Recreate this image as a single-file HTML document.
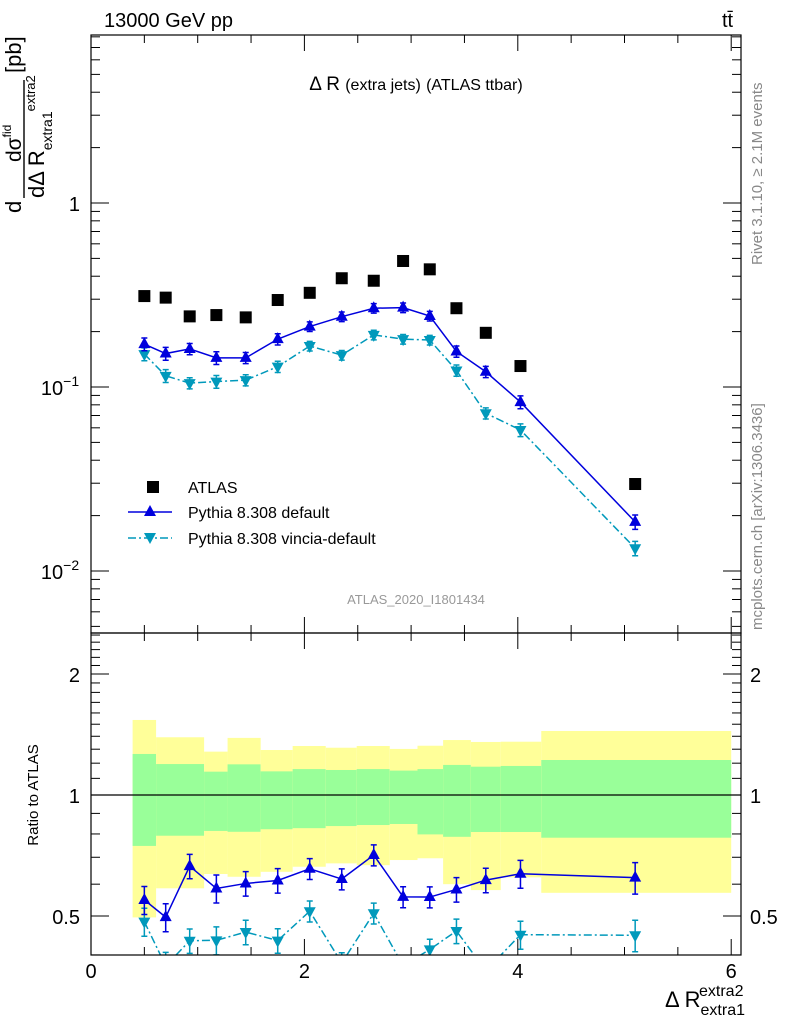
<!DOCTYPE html>
<html><head><meta charset="utf-8"><style>
html,body{margin:0;padding:0;background:#fff;}
svg text{font-family:"Liberation Sans",sans-serif;}
</style></head><body>
<svg id="c" width="786" height="1024" xmlns="http://www.w3.org/2000/svg">
<defs>
<clipPath id="cm"><rect x="91" y="35" width="650" height="598"/></clipPath>
<clipPath id="cr"><rect x="91" y="633" width="650" height="322"/></clipPath>
</defs>
<g id="bands" clip-path="url(#cr)"></g>
<line x1="91" y1="795" x2="741" y2="795" stroke="#000" stroke-width="1.2"/>
<g id="marks"></g>
<g id="axes"></g>
<rect x="91" y="35" width="650" height="598" fill="none" stroke="#000" stroke-width="1.2"/>
<rect x="91" y="633" width="650" height="322" fill="none" stroke="#000" stroke-width="1.2"/>
<text x="104" y="27" font-size="20">13000 GeV pp</text>
<text x="722" y="27" font-size="20">tt̄</text>
<text x="416" y="90" font-size="19" text-anchor="middle">Δ R <tspan font-size="16">(extra jets)</tspan> <tspan font-size="16">(ATLAS ttbar)</tspan></text>
<text x="416" y="604" font-size="13" fill="#999" text-anchor="middle">ATLAS_2020_I1801434</text>
<text transform="translate(762,265) rotate(-90)" font-size="15" fill="#888">Rivet 3.1.10, ≥ 2.1M events</text>
<text transform="translate(762,630) rotate(-90)" font-size="15" fill="#888">mcplots.cern.ch [arXiv:1306.3436]</text>
<g transform="rotate(-90)">
<text x="-213" y="21" font-size="22">d</text>
<line x1="-198" y1="24" x2="-80" y2="24" stroke="#000" stroke-width="1.4"/>
<text x="-162" y="21" font-size="21">dσ<tspan font-size="12" dy="-10">fid</tspan></text>
<text x="-198" y="44" font-size="22">dΔ R<tspan font-size="14" dy="8">extra1</tspan><tspan font-size="13" dy="-17">extra2</tspan></text>
<text x="-73" y="21" font-size="22">[pb]</text>
</g>
<text transform="translate(38,795) rotate(-90)" font-size="15" text-anchor="middle">Ratio to ATLAS</text>
<text x="745" y="1007" font-size="22" text-anchor="end">Δ R<tspan font-size="16" dy="8">extra1</tspan><tspan font-size="16" dx="-46" dy="-19">extra2</tspan></text>
<g>
<rect x="147" y="481" width="12" height="12" fill="#000"/>
<text x="188" y="493" font-size="16">ATLAS</text>
<line x1="128" y1="512" x2="172" y2="512" stroke="#0000dd" stroke-width="1.5"/>
<path d="M150 505 L156 516 L144 516 Z" fill="#0000dd"/>
<text x="188" y="518" font-size="16">Pythia 8.308 default</text>
<line x1="128" y1="538" x2="172" y2="538" stroke="#0099bb" stroke-width="1.5" stroke-dasharray="8,3,2,3"/>
<path d="M144 533 L156 533 L150 544 Z" fill="#0099bb"/>
<text x="188" y="544" font-size="16">Pythia 8.308 vincia-default</text>
</g>
</svg>
<script>
const xCenters=[0.5,0.7,0.925,1.175,1.45,1.75,2.05,2.35,2.65,2.925,3.175,3.425,3.7,4.025,5.1];
const atlas=[0.312,0.306,0.242,0.246,0.239,0.297,0.325,0.390,0.378,0.484,0.436,0.268,0.197,0.130,0.0297];
const pyDefault=[0.171,0.152,0.161,0.144,0.144,0.182,0.213,0.241,0.268,0.270,0.243,0.156,0.121,0.0828,0.0185];
const pyVincia=[0.151,0.115,0.105,0.107,0.109,0.129,0.167,0.149,0.192,0.182,0.180,0.123,0.072,0.0584,0.0133];
const mcRelErr=[0.08,0.08,0.07,0.08,0.07,0.07,0.06,0.06,0.06,0.06,0.06,0.07,0.07,0.08,0.09];
const bandEdges=[0.39,0.61,1.06,1.28,1.59,1.89,2.2,2.49,2.8,3.06,3.3,3.56,3.84,4.22,6.0];
const yellowHi=[1.537,1.392,1.282,1.387,1.294,1.324,1.311,1.324,1.302,1.326,1.370,1.355,1.357,1.443];
const greenHi=[1.265,1.194,1.143,1.192,1.145,1.160,1.154,1.160,1.150,1.160,1.188,1.176,1.181,1.222];
const greenLo=[0.747,0.792,0.814,0.810,0.822,0.827,0.837,0.842,0.847,0.798,0.787,0.809,0.809,0.783];
const yellowLo=[0.496,0.586,0.636,0.626,0.644,0.663,0.676,0.669,0.689,0.696,0.600,0.580,0.624,0.571];
const xTicks=[0,2,4,6];
const NS="http://www.w3.org/2000/svg";
const X=v=>91+v*106.7;
const Y=v=>203-184*Math.log10(v);
const R=r=>795-121*Math.log2(r);
function mk(t,a,p){const e=document.createElementNS(NS,t);for(const k in a)e.setAttribute(k,a[k]);p.appendChild(e);return e;}
const bands=document.getElementById('bands'),marks=document.getElementById('marks'),axes=document.getElementById('axes');
for(let i=0;i<yellowHi.length;i++){
 const x0=X(bandEdges[i]),w=X(bandEdges[i+1])-x0;
 const y1=mk('rect',{x:x0,y:R(yellowHi[i]),width:w,height:R(yellowLo[i])-R(yellowHi[i]),fill:'#ffff99'},bands);
 
 
 const g1=mk('rect',{x:x0,y:R(greenHi[i]),width:w,height:R(greenLo[i])-R(greenHi[i]),fill:'#99ff99'},bands);
 
 
}
const gm=mk('g',{'clip-path':'url(#cm)'},marks), gr=mk('g',{'clip-path':'url(#cr)'},marks);
function series(vals,color,dash,up,yf,par,name){
 const pts=xCenters.map((x,i)=>[X(x),yf(vals[i])]);
 const ln=mk('polyline',{points:pts.map(p=>p.join(',')).join(' '),fill:'none',stroke:color,'stroke-width':1.5,'stroke-dasharray':dash},par);
 
 
 vals.forEach((v,i)=>{
  const x=X(xCenters[i]),y=yf(v),hi=yf(v*(1+mcRelErr[i])),lo=yf(v*(1-mcRelErr[i]));
  mk('path',{d:`M${x} ${hi}V${lo}M${x-3} ${hi}H${x+3}M${x-3} ${lo}H${x+3}`,stroke:color,'stroke-width':1.5,fill:'none'},par);
  const d=up?`M${x} ${y-7}L${x+6} ${y+4}L${x-6} ${y+4}Z`:`M${x-6} ${y-4}L${x+6} ${y-4}L${x} ${y+7}Z`;
  const m=mk('path',{d:d,fill:color},par);
  
  
 });
}
series(pyVincia,'#0099bb','8,3,2,3',false,Y,gm,'vincia');
series(pyDefault,'#0000dd','',true,Y,gm,'default');
atlas.forEach((v,i)=>{
 const s=mk('rect',{x:X(xCenters[i])-6,y:Y(v)-6,width:12,height:12,fill:'#000'},gm);
 
 
});
series(pyVincia.map((v,i)=>v/atlas[i]),'#0099bb','8,3,2,3',false,R,gr,'vincia-ratio');
series(pyDefault.map((v,i)=>v/atlas[i]),'#0000dd','',true,R,gr,'default-ratio');
function tick(x1,y1,x2,y2){mk('line',{x1,y1,x2,y2,stroke:'#000','stroke-width':1},axes);}
for(let v=0;v<=6.05;v+=0.5){const x=X(v),L=(Math.abs(v%2)<1e-6)?16:8;
 tick(x,633,x,633-L);tick(x,633,x,633+L);tick(x,955,x,955-L);tick(x,35,x,35+L);}
xTicks.forEach(v=>{const t=mk('text',{x:X(v),y:978,'font-size':20,'text-anchor':'middle'},axes);t.textContent=v;
 
 });
for(let e=-3;e<=1;e++)for(let m=1;m<10;m++){const v=m*Math.pow(10,e),y=Y(v);if(y<35||y>633)continue;const L=m==1?18:9;tick(91,y,91+L,y);tick(741,y,741-L,y);}
[[1,'1',''],[0.1,'10','−1'],[0.01,'10','−2']].forEach(([v,b,s])=>{const t=mk('text',{x:s?60:80,y:Y(v)+8,'font-size':20,'text-anchor':s?'middle':'end'},axes);t.textContent=b;
 if(s){const ts=mk('tspan',{dy:-9,'font-size':14},t);ts.textContent=s;}
 
 });
for(let k=4;k<=25;k++){const r=k/10,y=R(r);if(y<633||y>955)continue;const L=(k==5||k==10||k==20)?18:9;tick(91,y,91+L,y);tick(741,y,741-L,y);}
[[2,'2'],[1,'1'],[0.5,'0.5']].forEach(([r,s])=>{
 const a=mk('text',{x:80,y:R(r)+8,'font-size':20,'text-anchor':'end'},axes);a.textContent=s;
 
 
 const b=mk('text',{x:750,y:R(r)+8,'font-size':20},axes);b.textContent=s;
 
 
});
</script>
</body></html>
